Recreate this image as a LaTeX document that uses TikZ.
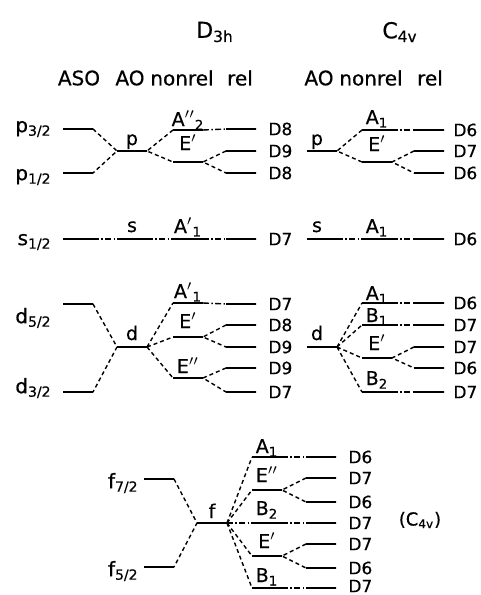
\documentclass[tikz,border=0pt]{standalone}
\usepackage{fontspec}
\setmainfont{DejaVu Sans}[FakeBold=0.5]
\usetikzlibrary{positioning}
\newcommand{\pr}{\ensuremath{'}}
\newcommand{\ppr}{\ensuremath{''}}

\begin{document}
\begin{tikzpicture}[x=0.5pt,y=-0.5pt,
  lvl/.style={draw,line width=1.2pt,minimum width=15pt,minimum height=0pt,inner sep=0pt,outer sep=0pt},
  dsh/.style={line width=0.7pt,dash pattern=on 2pt off 1.5pt},
  dsd/.style={line width=0.7pt,dash pattern=on 3pt off 1.2pt on 0.7pt off 1.2pt},
  every label/.style={inner sep=0pt},
  label distance=3pt,
  st/.style={font=\fontsize{10}{12}\selectfont,xshift=-2.5pt},
  sym/.style={font=\fontsize{9.5}{11}\selectfont,anchor=base},
  dd/.style={font=\fontsize{8.5}{10}\selectfont,xshift=3pt},
  dq/.style={font=\fontsize{8.5}{10}\selectfont,xshift=1.5pt},
  hd/.style={font=\fontsize{10}{12}\selectfont}]
  \useasboundingbox (0,0) rectangle (481,595);
  % headings
  \node[font=\fontsize{11}{13}\selectfont] (gD) at (215,32) {D\textsubscript{3h}};
  \node[font=\fontsize{11}{13}\selectfont] (gC) at (400,32) {C\textsubscript{4v}};
  \node[hd] (hASO) at (79,78) {ASO};
  \node[hd] (hAO) at (130,78) {AO};
  \node[hd] (hnr) at (182,78) {nonrel};
  \node[hd] (hr) at (240,78) {rel};
  \node[hd] (kAO) at (319,78) {AO};
  \node[hd] (knr) at (371,78) {nonrel};
  \node[hd] (kr) at (430,78) {rel};
  % p, D3h
  \node[lvl,label={[st]left:p\textsubscript{3/2}}] (p32) at (78,129) {};
  \node[lvl,label={[st,yshift=-2pt]left:p\textsubscript{1/2}}] (p12) at (78,173) {};
  \node[lvl,label={[sym]above:p}] (pp) at (132,151) {};
  \node[lvl,label={[sym,yshift=-1pt]above:A\ppr\textsubscript{2}}] (pA) at (188,130) {};
  \node[lvl,label={[sym,yshift=3pt]above:E\pr}] (pE) at (188,162) {};
  \node[lvl,label={[dd]right:D8}] (pr1) at (241,129) {};
  \node[lvl,label={[dd]right:D9}] (pr2) at (241,151) {};
  \node[lvl,label={[dd]right:D8}] (pr3) at (241,173) {};
  \draw[dsh] (p32.east) -- (pp.west) -- (p12.east);
  \draw[dsh] (pA.west) -- (pp.east) -- (pE.west);
  \draw[dsd] (pA.east) -- (pr1.west);
  \draw[dsh] (pr2.west) -- (pE.east) -- (pr3.west);
  % p, C4v
  \node[lvl,label={[sym,xshift=-2.5pt]above:p}] (qp) at (322,151) {};
  \node[lvl,label={[sym]above:A\textsubscript{1}}] (qA) at (377,130) {};
  \node[lvl,label={[sym,yshift=2.5pt]above:E\pr}] (qE) at (377,162) {};
  \node[lvl,label={[dq]right:D6}] (qr1) at (429,130) {};
  \node[lvl,label={[dq]right:D7}] (qr2) at (429,151) {};
  \node[lvl,label={[dq]right:D6}] (qr3) at (429,173) {};
  \draw[dsh] (qA.west) -- (qp.east) -- (qE.west);
  \draw[dsd] (qA.east) -- (qr1.west);
  \draw[dsh] (qr2.west) -- (qE.east) -- (qr3.west);
  % s
  \node[lvl,label={[st,yshift=-1.5pt]left:s\textsubscript{1/2}}] (s12) at (78,239) {};
  \node[lvl,label={[sym,yshift=0.5pt]above:s}] (ss) at (132,239) {};
  \node[lvl,label={[sym]above:A\pr\textsubscript{1}}] (sA) at (188,239) {};
  \node[lvl,label={[dd]right:D7}] (sr) at (241,239) {};
  \draw[dsd] (s12.east) -- (ss.west) (ss.east) -- (sA.west) (sA.east) -- (sr.west);
  \node[lvl,label={[sym,xshift=-2.5pt,yshift=0.5pt]above:s}] (ts) at (322,239) {};
  \node[lvl,label={[sym]above:A\textsubscript{1}}] (tA) at (377,239) {};
  \node[lvl,label={[dq]right:D6}] (tr) at (429,239) {};
  \draw[dsd] (ts.east) -- (tA.west) (tA.east) -- (tr.west);
  % d, D3h
  \node[lvl,label={[st,yshift=-7pt]left:d\textsubscript{5/2}}] (d52) at (78,304) {};
  \node[lvl,label={[st,yshift=2pt]left:d\textsubscript{3/2}}] (d32) at (78,392) {};
  \node[lvl,label={[sym,yshift=0.5pt]above:d}] (dd) at (132,347) {};
  \node[lvl,label={[sym,yshift=-0.5pt]above:A\pr\textsubscript{1}}] (dA) at (188,303) {};
  \node[lvl,label={[sym,yshift=1.5pt]above:E\pr}] (dE) at (188,337) {};
  \node[lvl,label={[sym,yshift=-0.5pt]above:E\ppr}] (dF) at (188,378) {};
  \node[lvl,label={[dd]right:D7}] (dr1) at (241,304) {};
  \node[lvl,label={[dd]right:D8}] (dr2) at (241,325) {};
  \node[lvl,label={[dd]right:D9}] (dr3) at (241,347) {};
  \node[lvl,label={[dd]right:D9}] (dr4) at (241,368) {};
  \node[lvl,label={[dd]right:D7}] (dr5) at (241,392) {};
  \draw[dsh] (d52.east) -- (dd.west) -- (d32.east);
  \draw[dsh] (dd.east) -- (dA.west) (dd.east) -- (dE.west) (dd.east) -- (dF.west);
  \draw[dsd] (dA.east) -- (dr1.west);
  \draw[dsh] (dr2.west) -- (dE.east) -- (dr3.west);
  \draw[dsh] (dr4.west) -- (dF.east) -- (dr5.west);
  % d, C4v
  \node[lvl,label={[sym,xshift=-2.5pt,yshift=0.5pt]above:d}] (ed) at (322,347) {};
  \node[lvl,label={[sym,yshift=-1.5pt]above:A\textsubscript{1}}] (eA) at (377,303) {};
  \node[lvl,label={[sym,yshift=-1.5pt]above:B\textsubscript{1}}] (eB) at (377,325) {};
  \node[lvl,label={[sym,yshift=1pt]above:E\pr}] (eE) at (377,358) {};
  \node[lvl,label={[sym,yshift=0.5pt]above:B\textsubscript{2}}] (eC) at (377,392) {};
  \node[lvl,label={[dq]right:D6}] (er1) at (429,303) {};
  \node[lvl,label={[dq]right:D7}] (er2) at (429,325) {};
  \node[lvl,label={[dq]right:D7}] (er3) at (429,347) {};
  \node[lvl,label={[dq]right:D6}] (er4) at (429,368) {};
  \node[lvl,label={[dq]right:D7}] (er5) at (429,392) {};
  \draw[dsh] (ed.east) -- (eA.west) (ed.east) -- (eB.west) (ed.east) -- (eE.west) (ed.east) -- (eC.west);
  \draw[dsd] (eA.east) -- (er1.west) (eB.east) -- (er2.west) (eC.east) -- (er5.west);
  \draw[dsh] (er3.west) -- (eE.east) -- (er4.west);
  % f
  \node[lvl,label={[st,xshift=3pt,yshift=-2pt]left:f\textsubscript{7/2}}] (f72) at (159,479) {};
  \node[lvl,label={[st,xshift=3pt,yshift=-2pt]left:f\textsubscript{5/2}}] (f52) at (159,567) {};
  \node[lvl,label={[sym,yshift=-0.5pt]above:f}] (ff) at (212,523) {};
  \node[lvl,label={[sym,yshift=-1pt]above:A\textsubscript{1}}] (fA) at (267,457) {};
  \node[lvl,label={[sym,yshift=1pt]above:E\ppr}] (fE) at (267,490) {};
  \node[lvl,label={[sym,yshift=1pt]above:B\textsubscript{2}}] (fB) at (267,523) {};
  \node[lvl,label={[sym,yshift=1pt]above:E\pr}] (fF) at (267,556) {};
  \node[lvl,label={[sym]above:B\textsubscript{1}}] (fC) at (267,588) {};
  \node[lvl,label={[dd]right:D6}] (fr1) at (321,457) {};
  \node[lvl,label={[dd]right:D7}] (fr2) at (321,478) {};
  \node[lvl,label={[dd]right:D6}] (fr3) at (321,502) {};
  \node[lvl,label={[dd]right:D7}] (fr4) at (321,523) {};
  \node[lvl,label={[dd]right:D7}] (fr5) at (321,544) {};
  \node[lvl,label={[dd]right:D6}] (fr6) at (321,568) {};
  \node[lvl,label={[dd,yshift=1pt]right:D7}] (fr7) at (321,588) {};
  \draw[dsh] (f72.east) -- (ff.west) -- (f52.east);
  \draw[dsh] (ff.east) -- (fA.west) (ff.east) -- (fE.west) (ff.east) -- (fF.west) (ff.east) -- (fC.west);
  \draw[dsd] (ff.east) -- (fB.west);
  \draw[dsd] (fA.east) -- (fr1.west) (fB.east) -- (fr4.west) (fC.east) -- (fr7.west);
  \draw[dsh] (fr2.west) -- (fE.east) -- (fr3.west);
  \draw[dsh] (fr5.west) -- (fF.east) -- (fr6.west);
  \node[font=\fontsize{9}{11}\selectfont] (grp) at (420,520) {(C\textsubscript{4v})};
\end{tikzpicture}
\end{document}
